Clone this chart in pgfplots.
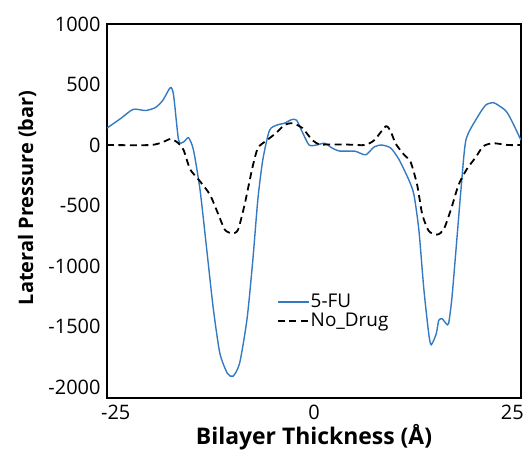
\documentclass[border=0pt]{standalone}
\usepackage{pgfplots}
\pgfplotsset{compat=1.18}
\usepackage{fontspec}
\setmainfont{Open Sans}
\definecolor{fublue}{RGB}{52,122,194}

\begin{document}
\begin{tikzpicture}[x=1bp,y=1bp]
\begin{axis}[
    scale only axis,
    width=414bp, height=374bp,
    xmin=-26.1, xmax=26.1,
    ymin=-2090, ymax=1000,
    xtick={-25,0,25},
    ytick={-2000,-1500,-1000,-500,0,500,1000},
    major tick length=0pt,
    axis line style={line width=1.4pt},
    /pgf/number format/assume math mode=true,
    /pgf/number format/1000 sep={},
    tick label style={font=\fontsize{20}{24}\selectfont},
    yticklabel style={xshift=-3bp},
    xticklabel style={yshift=-4bp},
    xlabel={\bfseries Bilayer Thickness (Å)},
    ylabel={\bfseries Lateral Pressure (bar)},
    xlabel style={font=\fontsize{23}{26}\selectfont,
        at={(axis description cs:0.5,-0.125)}, anchor=base},
    ylabel style={font=\fontsize{20}{24}\selectfont,
        at={(axis description cs:-0.193,0.535)}, anchor=center, rotate=0},
    legend style={at={(0.41,0.28)}, anchor=north west, draw=none, fill=none,
        font=\fontsize{19}{22}\selectfont, row sep=2pt, inner sep=0pt,
        nodes={inner sep=1pt}},
    legend cell align=left,
    legend image code/.code={\draw[#1] (0bp,0bp) -- (31bp,0bp);},
]

% 5-FU
\addplot[color=fublue, line width=1.4pt, smooth, tension=0.4] coordinates {
    (-26.1,140) (-24.36,220) (-22.80,295) (-21.24,285) (-19.99,310) (-19.05,370)
    (-18.11,475) (-17.70,410) (-17.07,40) (-16.45,25) (-15.82,60) (-15.20,-40)
    (-14.37,-370) (-13.53,-860) (-12.70,-1350) (-11.87,-1720) (-10.93,-1885)
    (-10.20,-1910) (-9.37,-1800) (-8.43,-1430) (-7.70,-940) (-7.08,-450)
    (-6.45,-120) (-5.62,120) (-4.68,165) (-3.75,180) (-2.81,210) (-2.19,205)
    (-1.46,105) (-0.62,0) (0.31,0) (1.35,15) (2.29,-25) (3.23,-50) (5.10,-50)
    (5.73,-65) (6.56,-80) (7.60,-15) (8.54,0) (9.68,-25) (10.72,-120) (11.97,-290)
    (12.60,-410) (13.22,-700) (13.85,-1190) (14.47,-1560) (14.78,-1650)
    (15.41,-1560) (15.72,-1450) (16.14,-1435) (16.66,-1475) (16.97,-1475)
    (17.38,-1270) (17.91,-860) (18.53,-370) (19.15,40) (20.51,220) (21.65,330)
    (22.59,350) (23.21,330) (24.15,285) (24.78,220) (26.1,40)
};
\addlegendentry{5-FU}

% No drug
\addplot[color=black, line width=1.8pt, dash pattern=on 7pt off 4.5pt, smooth, tension=0.4] coordinates {
    (-26.1,0) (-20.61,0) (-19.05,25) (-18.11,50) (-17.28,25) (-16.45,-40)
    (-15.62,-200) (-14.37,-300) (-13.12,-410) (-12.08,-570) (-11.24,-700)
    (-10.31,-730) (-9.58,-700) (-8.74,-490) (-7.81,-200) (-7.08,-25) (-5.93,40)
    (-4.68,105) (-3.75,165) (-2.71,180) (-1.46,140) (-0.21,40) (0.73,5) (1.98,5)
    (3.85,5) (6.35,0) (7.60,40) (9.06,155) (9.68,110) (10.31,10) (11.35,-80)
    (12.18,-140) (13.01,-330) (13.64,-570) (14.47,-710) (15.51,-740) (16.34,-700)
    (17.28,-530) (18.22,-330) (19.26,-200) (20.40,-100) (21.34,-10) (22.59,15)
    (24.46,0) (26.1,0)
};
\addlegendentry{No\_Drug}

\end{axis}
\pgfresetboundingbox
\path ([shift={(-107bp,-56bp)}]current axis.south west)
    rectangle ([shift={(4bp,24bp)}]current axis.north east);
\end{tikzpicture}
\end{document}
